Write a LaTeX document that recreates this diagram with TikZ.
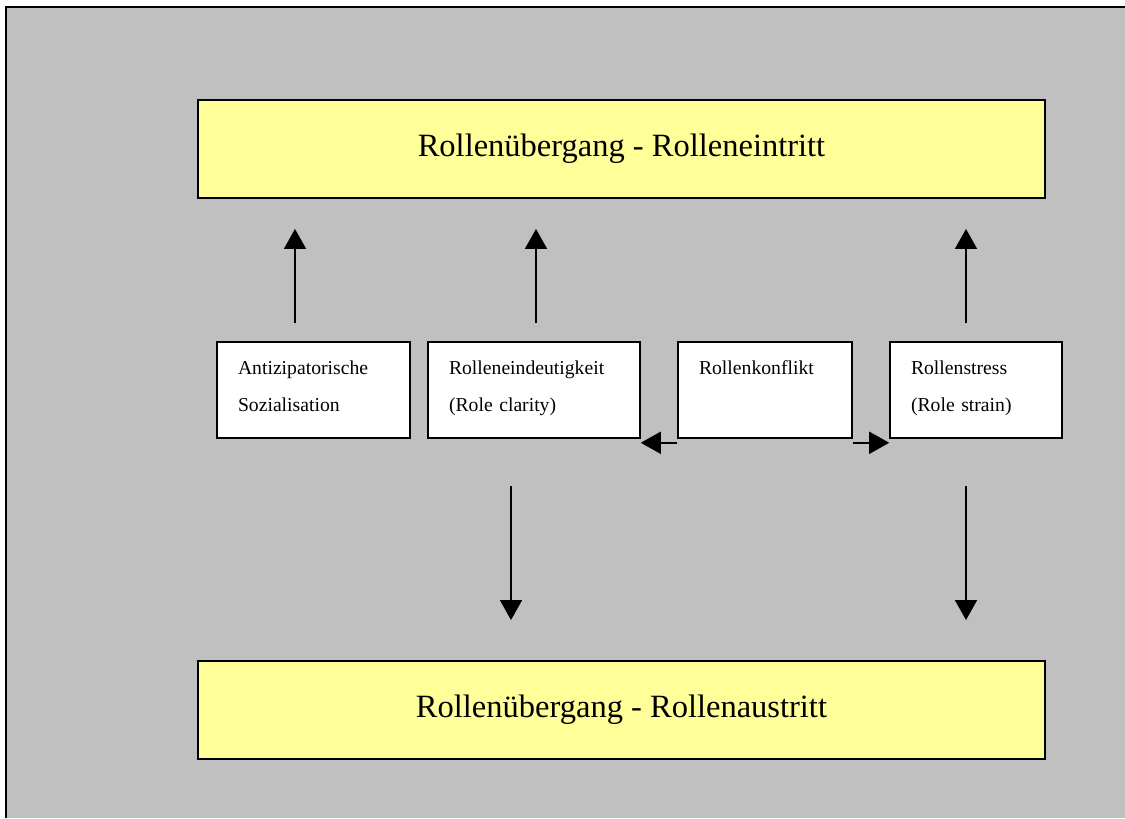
\documentclass[tikz,border=0pt]{standalone}
\usepackage{fontspec}
\setmainfont{Liberation Serif}
\usetikzlibrary{arrows.meta}
\definecolor{panelgray}{HTML}{C0C0C0}
\definecolor{roleyellow}{HTML}{FFFF99}

\begin{document}
\begin{tikzpicture}[x=0.02cm, y=-0.02cm,
    bigbox/.style={draw, rectangle, line width=1.1pt, fill=roleyellow, minimum width=16.94cm, minimum height=1.96cm, font=\fontsize{18.5}{22}\selectfont},
    smallbox/.style={draw, rectangle, line width=0.9pt, fill=white, text width=#1, text height=8pt, text depth=26.2pt, minimum height=1.92cm, inner xsep=0.42cm, align=left, font=\fontsize{11.2}{21.5}\selectfont},
    arr/.style={-{Triangle[width=0.44cm,length=0.4cm]}, line width=1pt}]
        \useasboundingbox (0,0) rectangle (1125,818);
        \fill[panelgray] (6,7) rectangle (1125,818);
        \draw[line width=1.2pt] (6,818) -- (6,7) -- (1125,7);

        \node[bigbox] (Eintritt) at (621.5,149) {Rollenübergang - Rolleneintritt};
        \node[bigbox] (Austritt) at (621.5,710) {Rollenübergang - Rollenaustritt};

        \node[smallbox=3.02cm] (Antizip) at (313.5,390) {Antizipatorische\\Sozialisation};
        \node[smallbox=3.40cm] (Klarheit) at (534,390) {Rolleneindeutigkeit\\(Role clarity)};
        \node[smallbox=2.64cm] (Konflikt) at (765,390) {Rollenkonflikt};
        \node[smallbox=2.60cm] (Stress) at (976,390) {Rollenstress\\(Role strain)};

        \coordinate (upA) at (295,323);
        \coordinate (upB) at (536,323);
        \coordinate (upD) at (966,323);
        \coordinate (downB) at (511,486);
        \coordinate (downD) at (966,486);

        \draw[arr] (upA) -- ([yshift=-0.6cm]upA |- Eintritt.south);
        \draw[arr] (upB) -- ([yshift=-0.6cm]upB |- Eintritt.south);
        \draw[arr] (upD) -- ([yshift=-0.6cm]upD |- Eintritt.south);
        \draw[arr] (downB) -- ([yshift=0.8cm]downB |- Austritt.north);
        \draw[arr] (downD) -- ([yshift=0.8cm]downD |- Austritt.north);

        \draw[arr] ([yshift=-0.08cm]Konflikt.south west) -- ([yshift=-0.08cm]Klarheit.south east);
        \draw[arr] ([yshift=-0.08cm]Konflikt.south east) -- ([yshift=-0.08cm]Stress.south west);
    \end{tikzpicture}
\end{document}
